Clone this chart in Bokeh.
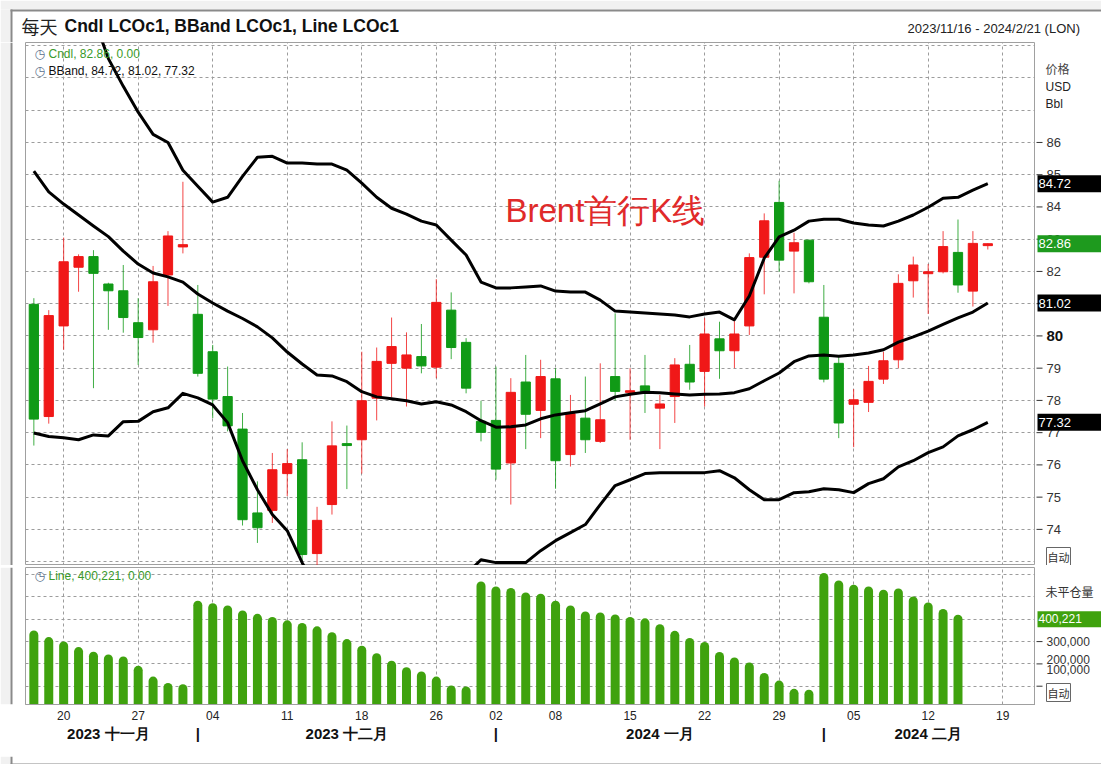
import numpy as np
from bokeh.plotting import figure
from bokeh.models import ColumnDataSource, FixedTicker, Label, Range1d, LinearAxis, BoxAnnotation
from bokeh.layouts import column, row
from bokeh.embed import file_html
from bokeh.resources import INLINE
from bokeh.core.properties import value

# ---------------- data (trading days 2023-11-16 .. 2024-02-16) ----------------
open_ = [80.98, 77.50, 80.31, 82.13, 82.46, 81.61, 81.40, 80.41, 80.19, 81.89,
         82.76, 80.67, 79.51, 78.12, 77.11, 74.51, 74.59, 75.73, 76.16, 73.25,
         74.77, 76.66, 76.78, 78.07, 79.15, 79.00, 79.36, 79.03, 80.80, 79.80,
         77.35, 77.38, 76.06, 78.57, 77.69, 78.67, 76.32, 77.45, 76.73, 78.74,
         78.25, 78.45, 77.76, 78.12, 79.12, 78.90, 79.91, 79.54, 80.31, 82.44,
         84.14, 82.63, 82.97, 80.58, 79.15, 77.88, 77.94, 78.66, 79.26, 81.71,
         81.93, 81.99, 82.59, 81.39, 82.80]
high = [81.17, 80.80, 83.05, 82.53, 82.66, 81.65, 82.20, 81.17, 82.17, 83.25,
        84.78, 81.58, 79.72, 79.05, 77.61, 75.49, 76.37, 76.49, 76.70, 74.70,
        77.35, 77.22, 79.51, 79.64, 80.57, 80.11, 80.37, 81.76, 81.35, 79.93,
        77.99, 79.05, 78.69, 79.41, 79.26, 79.00, 78.17, 78.74, 79.15, 80.70,
        79.00, 79.41, 78.17, 79.31, 79.72, 80.55, 80.44, 80.55, 82.56, 83.80,
        84.81, 83.20, 82.97, 81.58, 79.38, 78.35, 79.07, 79.51, 81.91, 82.46,
        82.23, 83.25, 83.61, 83.25, 82.87]
low = [76.60, 77.28, 79.57, 81.37, 78.38, 80.19, 80.10, 79.10, 79.79, 80.93,
       82.56, 78.74, 77.45, 77.04, 74.12, 73.58, 74.20, 75.03, 72.96, 72.80,
       74.46, 75.25, 75.73, 77.38, 78.09, 77.81, 78.84, 78.69, 79.28, 78.22,
       76.73, 75.54, 74.77, 76.49, 76.83, 75.26, 75.95, 76.37, 76.68, 78.00,
       76.78, 77.61, 76.49, 77.30, 78.33, 77.81, 78.67, 79.00, 80.03, 81.29,
       81.99, 81.32, 81.63, 78.56, 76.83, 76.55, 77.64, 78.51, 79.00, 81.19,
       80.68, 81.94, 81.34, 80.91, 82.68]
close = [77.42, 80.63, 82.30, 82.46, 81.94, 81.40, 80.57, 79.95, 81.68, 83.10,
         82.83, 78.84, 78.04, 77.21, 74.30, 74.05, 75.85, 76.04, 73.22, 74.28,
         76.59, 76.60, 77.99, 79.21, 79.67, 79.41, 79.07, 81.04, 79.64, 78.38,
         77.01, 75.87, 78.25, 77.57, 78.74, 76.13, 77.59, 76.78, 77.40, 78.28,
         78.30, 78.28, 77.89, 79.10, 78.57, 80.06, 79.54, 80.06, 82.43, 83.57,
         82.35, 82.89, 81.68, 78.66, 77.30, 78.02, 78.59, 79.23, 81.63, 82.20,
         81.99, 82.77, 81.58, 82.87, 82.86]

bb_upper = [93.4, 92.8, 92.0, 91.0, 89.9, 88.6, 87.74, 86.94, 86.25, 86.0,
            85.14, 84.64, 84.15, 84.30, 84.95, 85.54, 85.57, 85.36, 85.36, 85.33,
            85.33, 85.14, 84.74, 84.30, 83.96, 83.78, 83.56, 83.44, 82.97, 82.51,
            81.67, 81.49, 81.49, 81.52, 81.55, 81.39, 81.36, 81.36, 81.11, 80.77,
            80.74, 80.71, 80.68, 80.65, 80.59, 80.68, 80.74, 80.50, 81.24, 82.41,
            83.07, 83.28, 83.56, 83.62, 83.62, 83.50, 83.44, 83.41, 83.56, 83.75,
            83.99, 84.27, 84.30, 84.52, 84.72]
bb_middle = [85.11, 84.47, 84.09, 83.75, 83.41, 83.08, 82.63, 82.23, 81.95, 81.83,
             81.67, 81.30, 81.02, 80.77, 80.54, 80.28, 79.94, 79.50, 79.13, 78.79,
             78.76, 78.58, 78.27, 78.11, 78.05, 77.99, 77.89, 77.96, 77.86, 77.65,
             77.37, 77.17, 77.18, 77.24, 77.43, 77.55, 77.62, 77.68, 77.89, 78.11,
             78.19, 78.25, 78.24, 78.20, 78.17, 78.19, 78.20, 78.24, 78.36, 78.61,
             78.85, 79.20, 79.38, 79.41, 79.37, 79.41, 79.47, 79.57, 79.81, 79.97,
             80.15, 80.36, 80.56, 80.74, 81.02]
bb_lower = [76.99, 76.88, 76.84, 76.78, 76.93, 76.90, 77.34, 77.35, 77.65, 77.77,
            78.22, 78.08, 77.86, 77.31, 76.13, 75.23, 74.46, 73.96, 72.97, 72.10,
            71.50, 71.20, 71.00, 70.90, 70.90, 71.00, 71.20, 71.50, 71.90, 72.60,
            73.06, 72.97, 72.97, 72.97, 73.34, 73.65, 73.90, 74.15, 74.77, 75.36,
            75.54, 75.73, 75.76, 75.76, 75.76, 75.76, 75.82, 75.60, 75.23, 74.92,
            74.92, 75.14, 75.17, 75.26, 75.23, 75.14, 75.42, 75.57, 75.94, 76.13,
            76.38, 76.56, 76.90, 77.09, 77.32]

open_interest = [330000, 300000, 280000, 255000, 234000, 222000, 213000, 171000, 123000, 94000,
                 89000, 463000, 452000, 442000, 419000, 404000, 390000, 375000, 363000, 348000,
                 322000, 291000, 261000, 228000, 194000, 165000, 146000, 123000, 83000, 79000,
                 549000, 527000, 520000, 500000, 494000, 463000, 442000, 415000, 410000, 401000,
                 390000, 384000, 358000, 328000, 296000, 278000, 233000, 209000, 186000, 139000,
                 105000, 68000, 64000, 587000, 554000, 535000, 527000, 512000, 518000, 482000,
                 455000, 426000, 400221]

day_ticks = [2, 7, 12, 17, 22, 27, 31, 35, 40, 45, 50, 55, 60, 65]
day_labels = ["20", "27", "04", "11", "18", "26", "02", "08", "15", "22", "29", "05", "12", "19"]
month_centers = [5, 21, 42, 60]
month_names = ["2023 十一月", "2023 十二月", "2024 一月", "2024 二月"]
month_starts = [11, 31, 53]

price_ticks = [74, 75, 76, 77, 78, 79, 80, 81, 82, 83, 84, 85, 86]
price_labels = ["74", "75", "76", "77", "78", "79", "80", "81", "82", "83", "84", "85", "86"]
oi_ticks = [100000, 200000, 300000]
oi_labels = ["100,000", "200,000", "300,000"]

# ---------------- styling ----------------
RED = "#F01818"
GREEN = "#109A16"
OI_GREEN = "#3FA20E"
GRID = "#9c9c9c"
FONT = "Liberation Sans"
CJK = "Noto Sans CJK SC"
EDGE = "#8a8a8a"      # outer chart border
OUTSIDE = "#f1f1f1"   # area outside the chart border

W_LEFT = 25
W_PLOT = 1010
W_RIGHT = 66
W_ALL = W_LEFT + W_PLOT + W_RIGHT


def lab(fig, text, x, y, size="12px", color="#222222", bold=False, font=FONT,
        align="left", xunits="screen", yunits="screen", bg=None, border=None, pad=0):
    kw = dict(x=x, y=y, x_units=xunits, y_units=yunits, text=text,
              text_font=font, text_font_size=size, text_color=color,
              text_font_style="bold" if bold else "normal",
              text_align=align, text_baseline="middle")
    if bg is not None:
        kw["background_fill_color"] = bg
    if border is not None:
        kw["border_line_color"] = border
    if pad:
        kw["padding"] = pad
    fig.add_layout(Label(**kw))


def bare(fig):
    fig.grid.visible = False
    fig.outline_line_color = None
    fig.background_fill_color = "white"
    fig.border_fill_color = "white"


def box(fig, **kw):
    fig.add_layout(BoxAnnotation(fill_alpha=1, line_alpha=0, **kw))


def left_strip(height, top_b=0, bottom_b=0):
    s = figure(width=W_LEFT, height=height, min_border=0,
               x_range=Range1d(0, W_LEFT), y_range=Range1d(0, 1),
               x_axis_location=None, y_axis_location=None,
               output_backend="svg", toolbar_location=None)
    bare(s)
    box(s, left=0, right=10, fill_color=OUTSIDE)
    box(s, left=10, right=12, fill_color=EDGE)
    return s


# ---------------- header (title row) ----------------
h = figure(width=W_ALL, height=42, min_border=0,
           x_range=Range1d(0, W_ALL), y_range=Range1d(42, 0),
           x_axis_location=None, y_axis_location=None,
           output_backend="svg", toolbar_location=None)
bare(h)
box(h, left=0, right=W_ALL, top=0, bottom=9, fill_color=OUTSIDE)
box(h, left=0, right=10, top=9, bottom=42, fill_color=OUTSIDE)
box(h, left=10, right=W_ALL, top=9, bottom=11, fill_color=EDGE)
box(h, left=10, right=12, top=9, bottom=42, fill_color=EDGE)
lab(h, "每天", 21, 25, size="18px", color="#222222", font=CJK, xunits="data", yunits="data")
lab(h, "Cndl LCOc1, BBand LCOc1, Line LCOc1", 64, 25, size="17.5px", color="#111111",
    bold=True, xunits="data", yunits="data")
lab(h, "2023/11/16 - 2024/2/21 (LON)", 907, 28, size="13px", color="#222222",
    xunits="data", yunits="data")

# ---------------- price panel ----------------
idx = np.arange(len(close))
o = np.array(open_); c = np.array(close)
up = c >= o
src = ColumnDataSource(dict(
    x=idx, low=low, high=high,
    top=np.maximum(o, c), bottom=np.minimum(o, c),
    color=[RED if u else GREEN for u in up],
))

x_range = Range1d(-0.56, 67.2)
price_range = Range1d(72.88, 89.1)

p = figure(frame_width=W_PLOT, frame_height=523, min_border=0,
           x_range=x_range, y_range=price_range,
           x_axis_location=None, y_axis_location=None,
           output_backend="svg", toolbar_location=None)
p.outline_line_color = "#a0a0a0"
p.background_fill_color = "white"
p.border_fill_color = "white"
for g in p.xgrid:
    g.ticker = FixedTicker(ticks=day_ticks)
for g in p.ygrid:
    g.ticker = FixedTicker(ticks=list(range(73, 90)))
p.grid.grid_line_color = GRID
p.grid.grid_line_dash = "3 3"
p.grid.grid_line_width = 1

p.segment(x0="x", y0="low", x1="x", y1="high", line_color="color", line_alpha=0.8,
          line_width=1, source=src)
p.vbar(x="x", width=0.62, top="top", bottom="bottom", fill_color="color",
       line_color="color", line_width=1, source=src)
for band in (bb_upper, bb_middle, bb_lower):
    p.line(idx, band, line_color="black", line_width=3, line_join="round")

# legend (frame: left page x 25, bottom page y 565)
lab(p, "◷", 9, 512, size="12px", color="#5a6f8c", font="DejaVu Sans")
lab(p, "◷", 9, 495, size="12px", color="#5a6f8c", font="DejaVu Sans")
lab(p, "Cndl, 82.86, 0.00", 23, 512, size="12px", color="#3a9a2a")
lab(p, "BBand, 84.72, 81.02, 77.32", 23, 495, size="12px", color="#111111")
lab(p, "Brent首行K线", 480, 355, size="33px", color="#E02A2A")

# ---------------- price scale strip (right) ----------------
pr = figure(frame_width=W_RIGHT, frame_height=523, min_border=0,
            x_range=Range1d(0, W_RIGHT), y_range=price_range,
            x_axis_location=None, y_axis_location=None,
            output_backend="svg", toolbar_location=None)
bare(pr)
pt = np.array(price_ticks)
pr.segment(x0=np.zeros(len(pt)) + 1, y0=pt, x1=np.zeros(len(pt)) + 7, y1=pt,
           line_color="#333333", line_width=1)
norm = [i for i, t in enumerate(price_ticks) if t != 80]
pr.text(x=[11] * len(norm), y=[price_ticks[i] for i in norm],
        text=[price_labels[i] for i in norm],
        text_font=value(FONT), text_font_size="13px", text_color="#333333",
        text_baseline="middle", text_align="left")
bold_i = [i for i, t in enumerate(price_ticks) if t == 80]
pr.text(x=[11] * len(bold_i), y=[price_ticks[i] for i in bold_i],
        text=[price_labels[i] for i in bold_i],
        text_font=value(FONT), text_font_size="15px", text_font_style="bold",
        text_color="#111111", text_baseline="middle", text_align="left")

lab(pr, "价格", 10, 497, size="12px", color="#444444", font=CJK)
lab(pr, "USD", 10, 479, size="12px", color="#222222")
lab(pr, "Bbl", 10, 462, size="12px", color="#222222")
lab(pr, "84.72         ", 2, bb_upper[-1], size="13px", color="white", bg="black", yunits="data", pad=1)
lab(pr, "82.86         ", 2, close[-1], size="13px", color="white", bg="#1E9A1E", yunits="data", pad=1)
lab(pr, "81.02         ", 2, bb_middle[-1], size="13px", color="white", bg="black", yunits="data", pad=1)
lab(pr, "77.32         ", 2, bb_lower[-1], size="13px", color="white", bg="black", yunits="data", pad=1)
lab(pr, "自动", 11, 9, size="11px", color="#333333", font=CJK, bg="white", border="#666666", pad=1)

# ---------------- open interest panel ----------------
oi_range = Range1d(18000, 632000)
q = figure(frame_width=W_PLOT, frame_height=137, min_border_left=0, min_border_right=0,
           min_border_top=2, min_border_bottom=50,
           x_range=x_range, y_range=oi_range,
           y_axis_location=None,
           output_backend="svg", toolbar_location=None)
q.outline_line_color = "#a0a0a0"
q.background_fill_color = "white"
q.border_fill_color = "white"
oi_idx = np.arange(len(open_interest))
q.segment(x0=oi_idx, y0=np.zeros(len(oi_idx)), x1=oi_idx, y1=open_interest,
          line_color=OI_GREEN, line_width=9, line_cap="round")
for g in q.xgrid:
    g.ticker = FixedTicker(ticks=day_ticks)
for g in q.ygrid:
    g.ticker = FixedTicker(ticks=[100000, 200000, 300000, 400000, 500000, 600000])
q.grid.grid_line_color = GRID
q.grid.grid_line_dash = "3 3"

qx = q.xaxis[0]
qx.ticker = FixedTicker(ticks=day_ticks)
qx.major_label_overrides = dict(zip(day_ticks, day_labels))
qx.major_label_text_font = "Liberation Sans Narrow, Liberation Sans"
qx.major_label_text_font_size = "12px"
qx.major_label_text_color = "#222222"
qx.major_label_standoff = 6
qx.major_tick_out = 0
qx.major_tick_in = 0
qx.minor_tick_out = 0
qx.minor_tick_in = 0
qx.axis_line_color = "#a0a0a0"

month_ticks = month_centers + month_starts
month_text = month_names + ["|"] * len(month_starts)
ma = LinearAxis(ticker=FixedTicker(ticks=month_ticks),
                major_label_overrides=dict(zip(month_ticks, month_text)))
ma.major_label_text_font = "Liberation Sans Narrow, Liberation Sans"
ma.major_label_text_font_size = "15px"
ma.major_label_text_font_style = "bold"
ma.major_label_text_color = "#111111"
ma.major_label_standoff = 2
ma.major_tick_out = 0
ma.major_tick_in = 0
ma.minor_tick_out = 0
ma.minor_tick_in = 0
ma.axis_line_color = None
q.add_layout(ma, "below")

lab(q, "◷", 9, 129, size="12px", color="#5a6f8c", font="DejaVu Sans")
lab(q, "Line, 400,221, 0.00", 23, 129, size="12px", color="#3a9a2a")

# ---------------- open interest scale strip (right) ----------------
qr = figure(frame_width=W_RIGHT, frame_height=137, min_border_left=0, min_border_right=0,
            min_border_top=2, min_border_bottom=50,
            x_range=Range1d(0, W_RIGHT), y_range=oi_range,
            x_axis_location=None, y_axis_location=None,
            output_backend="svg", toolbar_location=None)
bare(qr)
ot = np.array(oi_ticks)
qr.segment(x0=np.zeros(len(ot)) + 1, y0=ot, x1=np.zeros(len(ot)) + 7, y1=ot,
           line_color="#333333", line_width=1)
# 300,000 sits on its tick; 200,000 and 100,000 are nudged up above the 自动 box
qr.text(x=[11, 11], y=[oi_ticks[2], oi_ticks[1] + 20000], text=[oi_labels[2], oi_labels[1]],
        text_font=value(FONT), text_font_size="12px", text_color="#333333",
        text_baseline="middle", text_align="left")
lab(qr, oi_labels[0], 11, 35, size="12px", color="#333333")
lab(qr, "未平仓量", 10, 113, size="12px", color="#333333", font=CJK)
lab(qr, "400,221       ", 2, open_interest[-1], size="12px", color="white", bg="#3FA20E",
    yunits="data", pad=1)
lab(qr, "自动", 11, 12, size="11px", color="#333333", font=CJK, bg="white", border="#666666", pad=1)

# ---------------- bottom edge ----------------
b = figure(width=W_ALL, height=10, min_border=0,
           x_range=Range1d(0, W_ALL), y_range=Range1d(10, 0),
           x_axis_location=None, y_axis_location=None,
           output_backend="svg", toolbar_location=None)
bare(b)
box(b, left=0, right=10, top=0, bottom=10, fill_color=OUTSIDE)
box(b, left=10, right=12, top=0, bottom=9, fill_color=EDGE)
box(b, left=10, right=W_ALL, top=7, bottom=9, fill_color=EDGE)
box(b, left=0, right=W_ALL, top=9, bottom=10, fill_color=OUTSIDE)

layout = column(h,
                row(left_strip(523), p, pr, spacing=0),
                row(left_strip(189), q, qr, spacing=0),
                b, spacing=0)
open("out.html", "w").write(file_html(layout, INLINE))
